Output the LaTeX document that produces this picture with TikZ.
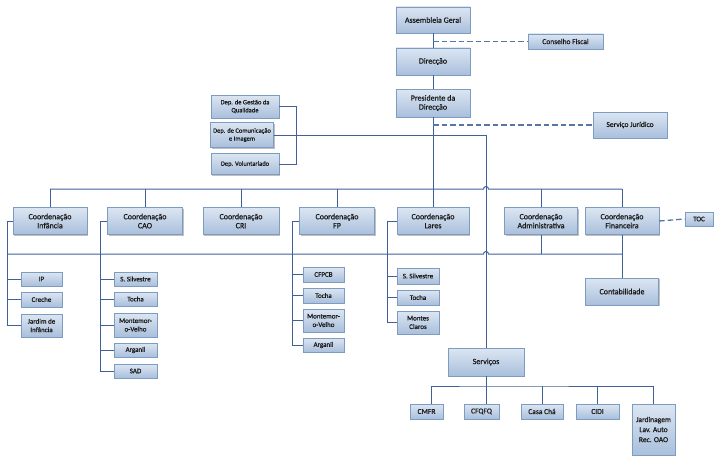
\documentclass[tikz,border=0pt]{standalone}
\usepackage{fontspec}
\setmainfont{Carlito}[FakeBold=0.5]
\usetikzlibrary{shadows}
\definecolor{boxtop}{HTML}{DCE6F2}
\definecolor{boxbot}{HTML}{A9BFDC}
\definecolor{boxline}{HTML}{7E9BC2}
\definecolor{wire}{HTML}{3F6198}
\definecolor{dashwire}{HTML}{5576A6}
\begin{document}
\begin{tikzpicture}[x=1pt,y=-1pt,
		box/.style={draw=boxline,top color=boxtop,bottom color=boxbot,
			drop shadow={shadow xshift=1.3pt,shadow yshift=-1.3pt,fill=black!45,opacity=.55},
			inner sep=1pt,align=center,text=black!90,font=\fontsize{8}{9}\selectfont},
		depbox/.style={box,font=\fontsize{6.5}{8}\selectfont},
		itembox/.style={box,font=\fontsize{7}{8.5}\selectfont},
		wire/.style={draw=wire,line width=1pt},
		dashlink/.style={draw=dashwire,line width=1.3pt,dash pattern=on 5.5pt off 3pt}]
		\useasboundingbox (0,0) rectangle (723,460);
		\node[box,minimum width=74pt,minimum height=26pt] (ag) at (433,20) {Assembleia Geral};
		\node[box,minimum width=74pt,minimum height=27pt] (dir) at (433,61.5) {Direcção};
		\node[box,minimum width=74pt,minimum height=28pt] (pres) at (433,103) {Presidente da\\Direcção};
		\node[box,font=\fontsize{7.5}{9}\selectfont,minimum width=75pt,minimum height=15pt] (cf) at (565.5,41.5) {Conselho Fiscal};
		\node[box,font=\fontsize{7.5}{9}\selectfont,minimum width=74pt,minimum height=26pt] (sj) at (630,125) {Serviço Jurídico};
		\node[depbox,minimum width=68pt,minimum height=23pt] (dgq) at (245,106.5) {Dep. de Gestão da\\Qualidade};
		\node[depbox,minimum width=63pt,minimum height=25pt] (dci) at (242,135) {Dep. de Comunicação\\e Imagem};
		\node[depbox,minimum width=68pt,minimum height=21pt] (dv) at (245,164) {Dep. Voluntariado};
		\node[box,minimum width=74pt,minimum height=27pt] (ci) at (50,221) {Coordenação\\Infância};
		\node[box,minimum width=75pt,minimum height=27pt] (cao) at (145,221) {Coordenação\\CAO};
		\node[box,minimum width=76pt,minimum height=27pt] (cri) at (241,221) {Coordenação\\CRI};
		\node[box,minimum width=75pt,minimum height=27pt] (cfp) at (337,221) {Coordenação\\FP};
		\node[box,minimum width=72pt,minimum height=27pt] (cl) at (433,221) {Coordenação\\Lares};
		\node[box,minimum width=73pt,minimum height=27pt] (cadm) at (541,221) {Coordenação\\Administrativa};
		\node[box,minimum width=74pt,minimum height=27pt] (cfin) at (622,221) {Coordenação\\Financeira};
		\node[itembox,minimum width=28pt,minimum height=14pt] (toc) at (699,219) {TOC};
		\node[box,minimum width=73pt,minimum height=27pt] (contab) at (622,291.5) {Contabilidade};
		\node[itembox,minimum width=41pt,minimum height=14pt] (ip) at (41.5,279) {IP};
		\node[itembox,minimum width=41pt,minimum height=15pt] (creche) at (41.5,299.5) {Creche};
		\node[itembox,minimum width=41pt,minimum height=23pt] (jard) at (41.5,325.5) {Jardim de\\Infância};
		\node[itembox,minimum width=43pt,minimum height=14pt] (ss1) at (135.5,279) {S. Silvestre};
		\node[itembox,minimum width=43pt,minimum height=14pt] (to1) at (135.5,299) {Tocha};
		\node[itembox,minimum width=43pt,minimum height=24pt] (mv1) at (135.5,325) {Montemor-\\o-Velho};
		\node[itembox,minimum width=43pt,minimum height=14pt] (ar1) at (135.5,350) {Arganil};
		\node[itembox,minimum width=43pt,minimum height=14pt] (sad) at (135.5,371) {SAD};
		\node[itembox,minimum width=41pt,minimum height=15pt] (cfpcb) at (323.5,274.5) {CFPCB};
		\node[itembox,minimum width=41pt,minimum height=15pt] (to2) at (323.5,295.5) {Tocha};
		\node[itembox,minimum width=41pt,minimum height=23pt] (mv2) at (323.5,320.5) {Montemor-\\o-Velho};
		\node[itembox,minimum width=41pt,minimum height=14pt] (ar2) at (323.5,345) {Arganil};
		\node[itembox,minimum width=42pt,minimum height=16pt] (ss3) at (418,276) {S. Silvestre};
		\node[itembox,minimum width=42pt,minimum height=15pt] (to3) at (418,297.5) {Tocha};
		\node[itembox,minimum width=42pt,minimum height=23pt] (mc) at (418,322.5) {Montes\\Claros};
		\node[box,minimum width=76pt,minimum height=28pt] (svc) at (486,362) {Serviços};
		\node[itembox,font=\fontsize{7.5}{9}\selectfont,minimum width=33pt,minimum height=15pt] (cmfr) at (426.5,411.5) {CMFR};
		\node[itembox,font=\fontsize{7.5}{9}\selectfont,minimum width=35pt,minimum height=15pt] (cfqfq) at (481.5,411.5) {CFQFQ};
		\node[itembox,font=\fontsize{7.5}{9}\selectfont,minimum width=42pt,minimum height=15pt] (casa) at (542,411.5) {Casa Chá};
		\node[itembox,font=\fontsize{7.5}{9}\selectfont,minimum width=43pt,minimum height=15pt] (cidi) at (597.5,411.5) {CIDI};
		\node[itembox,font=\fontsize{7.5}{10}\selectfont,minimum width=43pt,minimum height=51pt] (jrd) at (653.5,429.5) {Jardinagem\\Lav. Auto\\Rec. OAO};
		\coordinate (topbus) at (433,189);
		\coordinate (lowbus) at (433,254);
		\coordinate (sbus) at (486,386);
		\coordinate (ti) at (7,221);
		\coordinate (tcao) at (100,221);
		\coordinate (tfp) at (292,221);
		\coordinate (tl) at (387,221);
		\draw[wire] (ag) -- (dir) -- (pres) -- (cl);
		\draw[dashlink] (ag.south |- cf) -- (cf.west);
		\draw[dashlink] (pres.south |- sj) -- (sj.west);
		\draw[wire] (dgq.east) -- ++(17,0) |- (dv.east);
		\draw[wire] (dci.east) -| (svc.north);
		\draw[wire] (ci.north |- topbus) -- ([xshift=-2.5pt]svc.north |- topbus) arc (180:360:2.5) -- (cfin.north |- topbus);
		\foreach \n in {ci,cao,cri,cfp,cadm,cfin} \draw[wire] (\n.north) -- (\n.north |- topbus);
		\draw[wire] (ti |- lowbus) -- ([xshift=-2.5pt]svc.north |- lowbus) arc (180:360:2.5) -- (cfin.south |- lowbus);
		\draw[wire] (cadm.south) -- (cadm.south |- lowbus) (cfin) -- (contab);
		\draw[dashlink] (cfin.east) -- (toc.west);
		\draw[wire] (ci.west) -- (ti) |- (jard.west);
		\foreach \n in {ip,creche} \draw[wire] (ti |- \n) -- (\n.west);
		\draw[wire] (cao.west) -- (tcao) |- (sad.west);
		\foreach \n in {ss1,to1,mv1,ar1} \draw[wire] (tcao |- \n) -- (\n.west);
		\draw[wire] (cfp.west) -- (tfp) |- (ar2.west);
		\foreach \n in {cfpcb,to2,mv2} \draw[wire] (tfp |- \n) -- (\n.west);
		\draw[wire] (cl.west) -- (tl) |- (mc.west);
		\foreach \n in {ss3,to3} \draw[wire] (tl |- \n) -- (\n.west);
		\draw[wire] (svc.south) -- (svc.south |- cfqfq.north);
		\draw[wire] ([xshift=4.5pt]cmfr.north) |- (sbus) -| (jrd.north);
		\foreach \n in {casa,cidi} \draw[wire] (\n.north) -- (\n.north |- sbus);
	\end{tikzpicture}
\end{document}
